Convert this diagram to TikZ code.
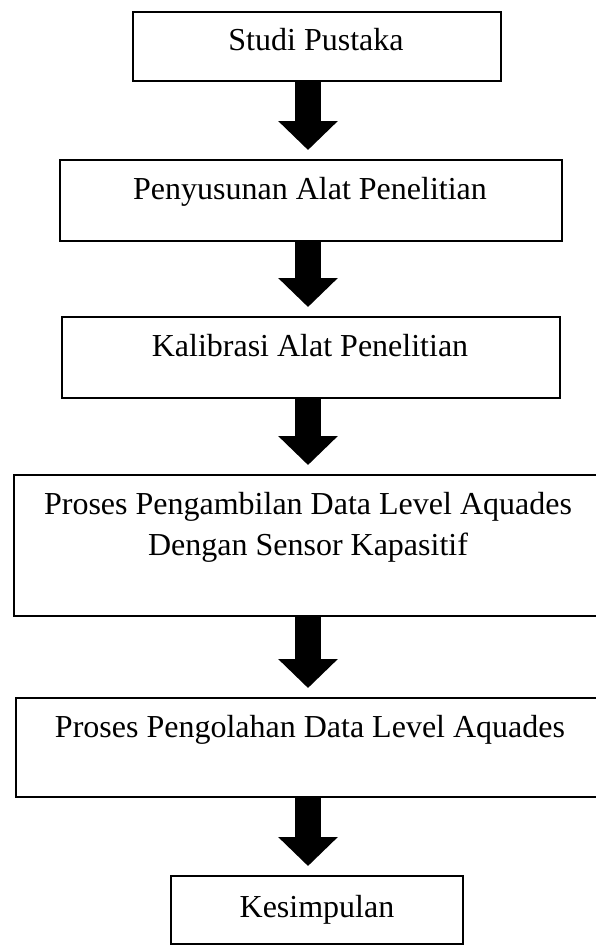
\documentclass[tikz,border=0pt]{standalone}
\usepackage{fontspec}
\setmainfont{Liberation Serif}
\usetikzlibrary{arrows.meta,calc}
\begin{document}
\begin{tikzpicture}[x=1pt,y=-1pt,
  box/.style={draw=black, line width=2pt, inner sep=0pt, anchor=north west},
  txt/.style={font=\fontsize{32}{41}\selectfont, inner sep=0pt, anchor=base},
  fatarrow/.style={black, line width=26pt, line cap=butt, -{Triangle[width=58pt,length=29pt]}}]
\useasboundingbox (0,0) rectangle (595,945);
\fill[white] (0,0) rectangle (595,945);
\coordinate (axis) at (308,0);
% boxes
\node[box, minimum width=368pt, minimum height=69pt] (b1) at (132,11) {};
\node[box, minimum width=502pt, minimum height=81pt] (b2) at (59,159) {};
\node[box, minimum width=498pt, minimum height=81pt] (b3) at (61,316) {};
\node[box, minimum width=592pt, minimum height=141pt] (b4) at (13,474) {};
\node[box, minimum width=590pt, minimum height=99pt] (b5) at (15,697) {};
\node[box, minimum width=292pt, minimum height=68pt] (b6) at (170,875) {};
% texts
\node[txt] (t1) at (316,50) {Studi Pustaka};
\node[txt] (t2) at (310,199) {Penyusunan Alat Penelitian};
\node[txt] (t3) at (310,356) {Kalibrasi Alat Penelitian};
\node[txt] (t4a) at (308,514) {Proses Pengambilan Data Level Aquades};
\node[txt] (t4b) at (308,555) {Dengan Sensor Kapasitif};
\node[txt] (t5) at (310,737) {Proses Pengolahan Data Level Aquades};
\node[txt] (t6) at (317,917) {Kesimpulan};
% arrows
\draw[fatarrow] (b1.south -| axis) -- ($(b2.north -| axis)+(0,-9)$);
\draw[fatarrow] (b2.south -| axis) -- ($(b3.north -| axis)+(0,-9)$);
\draw[fatarrow] (b3.south -| axis) -- ($(b4.north -| axis)+(0,-9)$);
\draw[fatarrow] (b4.south -| axis) -- ($(b5.north -| axis)+(0,-9)$);
\draw[fatarrow] (b5.south -| axis) -- ($(b6.north -| axis)+(0,-9)$);
\end{tikzpicture}
\end{document}
